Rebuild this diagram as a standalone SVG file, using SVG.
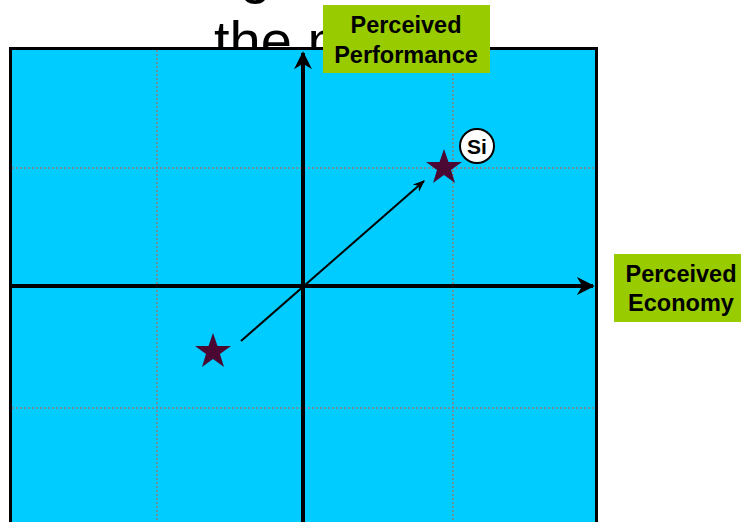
<svg xmlns="http://www.w3.org/2000/svg" width="741" height="522" viewBox="0 0 741 522">
<style>
.title{font-family:"Liberation Sans",Arial,sans-serif;font-size:56px;fill:#000}
.lbl{font-family:"Liberation Sans",Arial,sans-serif;font-size:23.5px;font-weight:bold;fill:#000;text-anchor:middle}
.si{font-family:"Liberation Sans",Arial,sans-serif;font-size:21px;font-weight:bold;fill:#000;text-anchor:middle}
.grid{stroke:#8a7f80;stroke-width:1.5;stroke-dasharray:2,2;fill:none}
.axis{stroke:#000;stroke-width:4;fill:none}
.star{fill:#4a0833}
.box{fill:#99cc00}
</style>
<defs>
<marker id="ah" viewBox="0 0 10 10" refX="9" refY="5" markerWidth="4.5" markerHeight="4.5" orient="auto" markerUnits="strokeWidth">
<path d="M0,0 L10,5 L0,10 L3,5 z" fill="#000"/>
</marker>
<marker id="ah2" viewBox="0 0 10 10" refX="9" refY="5" markerWidth="6" markerHeight="6" orient="auto" markerUnits="strokeWidth">
<path d="M0,1 L10,5 L0,9 L3,5 z" fill="#000"/>
</marker>
</defs>
<rect width="741" height="522" fill="#fff"/>
<g id="title">
<text class="title" x="240" y="-8">g</text>
<text class="title" x="214" y="60">the m</text>
</g>
<g id="panel">
<rect x="10.5" y="48.5" width="586" height="480" fill="#00ccff" stroke="#000" stroke-width="3"/>
<line class="grid" x1="157" y1="50" x2="157" y2="522"/>
<line class="grid" x1="453" y1="50" x2="453" y2="522"/>
<line class="grid" x1="12" y1="168" x2="595" y2="168"/>
<line class="grid" x1="12" y1="408" x2="595" y2="408"/>
</g>
<g id="connectors">
<line class="axis" x1="303" y1="522" x2="303" y2="53" marker-end="url(#ah)"/>
<line class="axis" x1="12" y1="286" x2="593" y2="286" marker-end="url(#ah)"/>
<line x1="241" y1="341" x2="424" y2="181" stroke="#000" stroke-width="2" marker-end="url(#ah2)"/>
</g>
<g id="star1">
<polygon class="star" points="213,333 217.5,346 231,346 220,354 224,367 213,359 202,367 206,354 195,346 208.5,346"/>
</g>
<g id="star2">
<polygon class="star" points="444,149 448.5,162 462,162 451,170 455,183 444,175 433,183 437,170 426,162 439.5,162"/>
</g>
<g id="si">
<circle cx="477" cy="146" r="17" fill="#fff" stroke="#000" stroke-width="2"/>
<text class="si" x="477" y="153.5">Si</text>
</g>
<g id="perf">
<rect class="box" x="323" y="5" width="167" height="68"/>
<text class="lbl" x="406" y="33">Perceived</text>
<text class="lbl" x="406" y="63">Performance</text>
</g>
<g id="econ">
<rect class="box" x="614" y="254" width="127" height="68"/>
<text class="lbl" x="681" y="282">Perceived</text>
<text class="lbl" x="681" y="311">Economy</text>
</g>
</svg>
